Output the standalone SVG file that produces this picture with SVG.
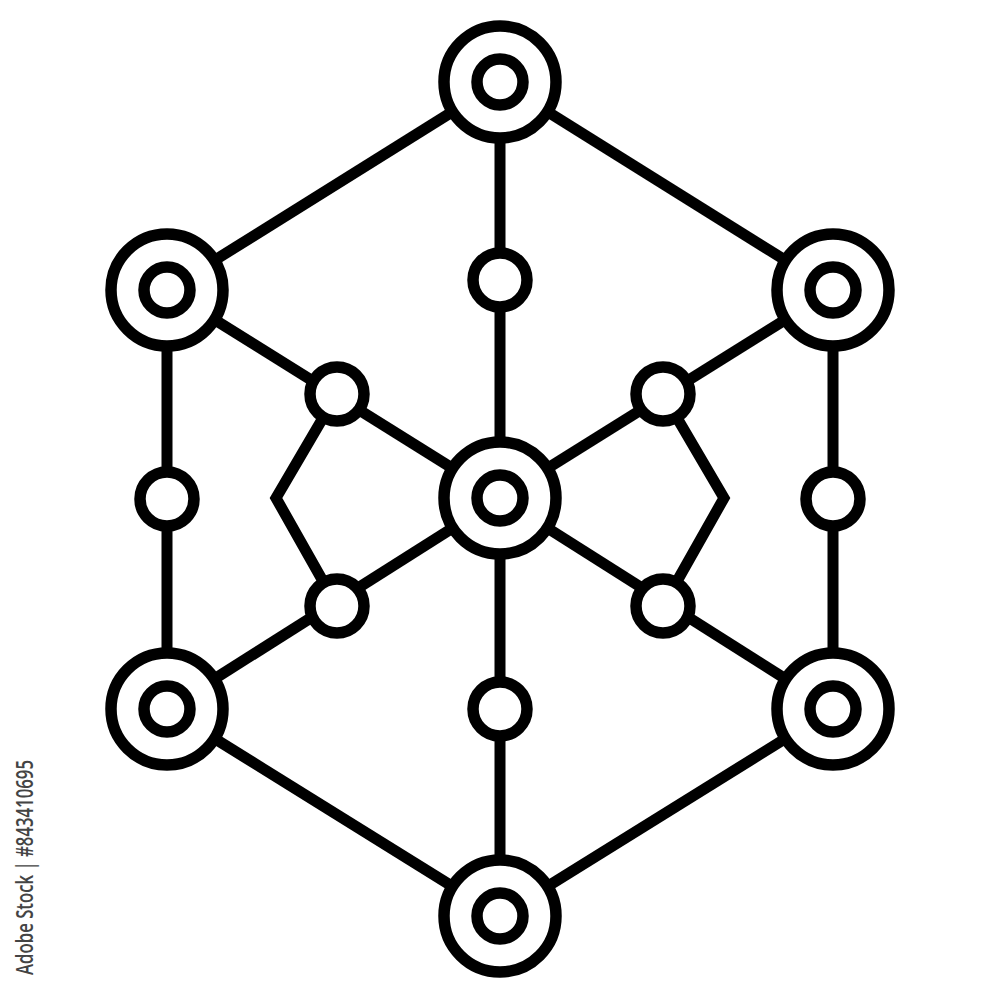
<svg xmlns="http://www.w3.org/2000/svg" width="1000" height="1000" viewBox="0 0 1000 1000">
  <style>
    .edge { stroke: #000; stroke-width: 11; fill: none; stroke-linejoin: miter; }
    .ring { stroke: #000; stroke-width: 11.5; fill: #fff; }
    .mark { font-family: "Open Sans", "Liberation Sans", sans-serif; font-size: 24px; font-weight: 600; fill: #444; }
  </style>
  <rect width="1000" height="1000" fill="#fff"/>
  <g id="connectors">
    <line class="edge" x1="500" y1="82" x2="167" y2="290"/>
    <line class="edge" x1="500" y1="82" x2="833" y2="290"/>
    <line class="edge" x1="167" y1="290" x2="167" y2="709"/>
    <line class="edge" x1="833" y1="290" x2="833" y2="709"/>
    <line class="edge" x1="167" y1="709" x2="500" y2="916"/>
    <line class="edge" x1="833" y1="709" x2="500" y2="916"/>
    <line class="edge" x1="500" y1="82" x2="500" y2="916"/>
    <line class="edge" x1="167" y1="290" x2="500" y2="498"/>
    <line class="edge" x1="167" y1="709" x2="500" y2="498"/>
    <line class="edge" x1="833" y1="290" x2="500" y2="498"/>
    <line class="edge" x1="833" y1="709" x2="500" y2="498"/>
    <polyline class="edge" points="337,394 276,498 337,606"/>
    <polyline class="edge" points="663,394 724,498 663,606"/>
  </g>
  <g id="node-top"><circle class="ring" cx="500" cy="82" r="56"/><circle class="ring" cx="500" cy="82" r="23"/></g>
  <g id="node-upper-left"><circle class="ring" cx="167" cy="290" r="56"/><circle class="ring" cx="167" cy="290" r="23"/></g>
  <g id="node-upper-right"><circle class="ring" cx="833" cy="290" r="56"/><circle class="ring" cx="833" cy="290" r="23"/></g>
  <g id="node-lower-left"><circle class="ring" cx="167" cy="709" r="56"/><circle class="ring" cx="167" cy="709" r="23"/></g>
  <g id="node-lower-right"><circle class="ring" cx="833" cy="709" r="56"/><circle class="ring" cx="833" cy="709" r="23"/></g>
  <g id="node-bottom"><circle class="ring" cx="500" cy="916" r="56"/><circle class="ring" cx="500" cy="916" r="23"/></g>
  <g id="node-center"><circle class="ring" cx="500" cy="498" r="56"/><circle class="ring" cx="500" cy="498" r="23"/></g>
  <g id="small-top"><circle class="ring" cx="500" cy="280" r="27"/></g>
  <g id="small-bottom"><circle class="ring" cx="500" cy="709" r="27"/></g>
  <g id="small-left"><circle class="ring" cx="167" cy="499" r="27"/></g>
  <g id="small-right"><circle class="ring" cx="833" cy="499" r="27"/></g>
  <g id="small-inner-ul"><circle class="ring" cx="337" cy="394" r="27"/></g>
  <g id="small-inner-ll"><circle class="ring" cx="337" cy="606" r="27"/></g>
  <g id="small-inner-ur"><circle class="ring" cx="663" cy="394" r="27"/></g>
  <g id="small-inner-lr"><circle class="ring" cx="663" cy="606" r="27"/></g>
  <text class="mark" transform="translate(33,975) rotate(-90)" x="0" y="0" textLength="215" lengthAdjust="spacingAndGlyphs">Adobe Stock | #843410695</text>
</svg>
